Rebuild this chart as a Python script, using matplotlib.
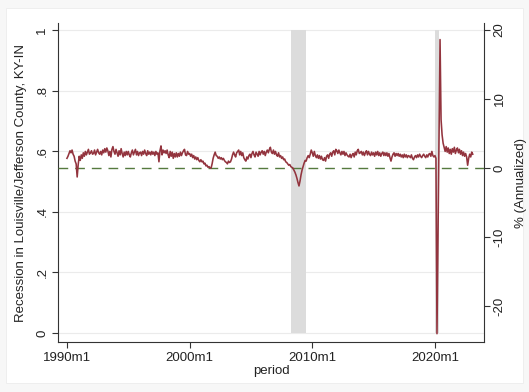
import matplotlib
matplotlib.use("Agg")
import matplotlib.pyplot as plt
import numpy as np
from matplotlib.patches import Rectangle

plt.rcParams['font.family'] = ['Liberation Sans', 'DejaVu Sans']

# monthly growth, % annualized, 1990m1 .. 2023m2
growth_1990 = [1.4, 1.7, 2.1, 2.5, 2.2, 2.6, 2.0, 1.7, 1.0, 0.6, -1.3, 0.5]
growth_1991 = [1.7, 1.1, 1.9, 1.4, 2.2, 1.7, 2.4, 1.9, 2.3, 2.7, 2.0, 2.2]
growth_1992 = [2.5, 2.0, 2.1, 2.6, 1.9, 2.3, 2.7, 2.2, 2.0, 2.4, 1.9, 2.6]
growth_1993 = [2.2, 2.8, 2.3, 2.9, 2.5, 1.8, 2.4, 1.6, 2.7, 3.1, 2.4, 2.0]
growth_1994 = [2.7, 2.2, 1.7, 2.5, 1.9, 2.8, 2.1, 1.6, 2.3, 1.8, 2.4, 1.9]
growth_1995 = [2.4, 1.9, 1.6, 2.2, 2.6, 1.9, 2.3, 2.7, 1.9, 2.4, 1.8, 2.2]
growth_1996 = [2.3, 1.8, 2.4, 2.0, 2.6, 2.1, 1.8, 2.5, 2.0, 2.3, 1.9, 2.4]
growth_1997 = [2.0, 2.3, 1.8, 2.4, 2.0, 2.2, 0.9, 2.5, 3.2, 1.9, 2.6, 2.2]
growth_1998 = [2.5, 2.1, 2.6, 1.9, 1.5, 2.4, 1.7, 2.3, 1.4, 2.1, 1.6, 2.2]
growth_1999 = [1.6, 2.1, 1.7, 2.3, 1.8, 2.2, 2.5, 2.7, 1.9, 1.8, 2.4, 2.0]
growth_2000 = [2.1, 1.7, 2.0, 1.5, 1.8, 1.3, 1.6, 1.2, 1.5, 1.1, 0.9, 1.2]
growth_2001 = [0.9, 1.0, 0.6, 0.7, 0.3, 0.4, 0.1, 0.2, 0.0, 0.0, 0.6, 1.4]
growth_2002 = [1.9, 2.3, 1.8, 1.7, 1.4, 1.6, 1.3, 1.5, 1.2, 1.4, 1.1, 0.9]
growth_2003 = [0.8, 0.6, 1.0, 0.8, 0.9, 1.3, 1.9, 2.3, 1.9, 1.6, 2.2, 2.4]
growth_2004 = [2.6, 1.9, 2.4, 1.8, 2.2, 1.5, 1.2, 1.0, 1.6, 1.3, 1.8, 2.0]
growth_2005 = [1.5, 2.1, 2.4, 1.9, 1.6, 2.3, 2.0, 1.7, 2.4, 1.9, 2.3, 2.5]
growth_2006 = [2.0, 2.4, 1.8, 2.3, 2.6, 2.2, 2.7, 3.0, 2.3, 2.1, 2.6, 2.0]
growth_2007 = [2.4, 1.9, 1.7, 2.2, 1.6, 1.8, 1.4, 1.6, 1.2, 1.3, 0.9, 0.8]
growth_2008 = [0.6, 0.4, 0.5, 0.2, 0.1, 0.0, -0.3, -0.6, -1.0, -1.5, -2.1, -2.6]
growth_2009 = [-1.9, -1.0, -0.3, 0.2, 0.7, 1.1, 1.0, 1.5, 1.8, 1.5, 2.0, 2.6]
growth_2010 = [2.2, 1.7, 2.4, 1.8, 1.5, 1.9, 1.4, 1.8, 1.3, 1.7, 1.2, 1.1]
growth_2011 = [1.5, 1.0, 1.7, 1.9, 1.4, 2.0, 2.2, 1.7, 2.3, 2.5, 1.9, 2.7]
growth_2012 = [2.5, 2.1, 2.6, 2.2, 1.9, 2.4, 2.0, 2.4, 1.8, 2.2, 1.9, 1.7]
growth_2013 = [1.6, 2.0, 1.5, 1.9, 2.1, 1.6, 2.3, 1.9, 2.5, 2.7, 2.1, 2.2]
growth_2014 = [2.4, 1.9, 2.3, 1.8, 2.2, 2.5, 1.9, 2.4, 2.0, 1.8, 2.3, 1.9]
growth_2015 = [2.2, 1.7, 2.3, 1.9, 2.4, 1.8, 2.2, 1.7, 2.1, 2.3, 1.8, 2.2]
growth_2016 = [1.8, 2.2, 1.7, 2.1, 1.5, 1.0, 1.6, 2.0, 2.2, 1.7, 2.1, 1.8]
growth_2017 = [2.1, 1.7, 2.0, 1.6, 1.9, 1.5, 2.0, 1.6, 1.9, 1.5, 1.8, 1.7]
growth_2018 = [1.5, 1.9, 1.4, 1.2, 1.6, 1.8, 1.5, 1.9, 1.6, 2.0, 1.7, 1.5]
growth_2019 = [1.8, 2.0, 1.7, 1.5, 1.9, 1.6, 2.0, 2.1, 1.7, 2.4, 1.8, 1.6]
growth_2020 = [1.8, 1.4, -24.0, -9.5, 5.2, 18.6, 7.0, 4.8, 3.6, 3.0, 2.4, 3.1]
growth_2021 = [2.3, 2.9, 2.1, 2.7, 2.0, 2.8, 2.3, 3.0, 2.1, 2.6, 2.9, 2.2]
growth_2022 = [2.7, 2.0, 2.5, 1.8, 2.3, 1.7, 2.1, 1.6, 0.4, 1.4, 2.0, 1.6]
growth_2023 = [2.3, 2.0]

# recession months (year, month)
recession_2008 = [(2008, m) for m in range(5, 13)] + [(2009, m) for m in range(1, 7)]
recession_2020 = [(2020, 2), (2020, 3), (2020, 4)]

xtick_years = [1990, 2000, 2010, 2020]
ytick_left = [0, 0.2, 0.4, 0.6, 0.8, 1]
ytick_left_labels = ['0', '.2', '.4', '.6', '.8', '1']
ytick_right = [-20, -10, 0, 10, 20]

growth = (growth_1990 + growth_1991 + growth_1992 + growth_1993 + growth_1994 +
          growth_1995 + growth_1996 + growth_1997 + growth_1998 + growth_1999 +
          growth_2000 + growth_2001 + growth_2002 + growth_2003 + growth_2004 +
          growth_2005 + growth_2006 + growth_2007 + growth_2008 + growth_2009 +
          growth_2010 + growth_2011 + growth_2012 + growth_2013 + growth_2014 +
          growth_2015 + growth_2016 + growth_2017 + growth_2018 + growth_2019 +
          growth_2020 + growth_2021 + growth_2022 + growth_2023)
t = 1990 + np.arange(len(growth)) / 12.0

rec_months = recession_2008 + recession_2020
rec_t = [y + (m - 1) / 12.0 for y, m in rec_months]
rec_val = [1] * len(rec_t)

W, H = 529, 392
fig = plt.figure(figsize=(W / 100, H / 100), dpi=100, facecolor='#F7F7F7')
# white graph region inside a light gray margin
fig.patches.append(Rectangle((6 / W, 1 - 383 / H), 517 / W, 375 / H,
                             transform=fig.transFigure, facecolor='white',
                             edgecolor='#ECECEC', lw=0.6, zorder=-10))

ax = fig.add_axes([58 / W, 1 - 342 / H, 426 / W, 319 / H])
ax.set_facecolor('white')
ax2 = ax.twinx()

txt = '#222222'
ax.bar(rec_t, rec_val, width=1 / 12.0, color='#DCDCDC', linewidth=0, zorder=2)
ax.set_axisbelow(True)
ax.yaxis.grid(True, color='#EBEBEB', lw=0.8)
ax.set_xlim(1989.27, 2024.0)
ax.set_ylim(-0.0297, 1.023)
ax.set_yticks(ytick_left)
ax.set_yticklabels(ytick_left_labels, rotation=90, va='center')
ax.set_xticks(xtick_years)
ax.set_xticklabels(['%dm1' % y for y in xtick_years])
ax.set_ylabel('Recession in Louisville/Jefferson County, KY-IN', fontsize=9.5,
              color=txt, labelpad=7)
ax.set_xlabel('period', fontsize=9.5, color=txt, labelpad=1)

ax2.axhline(0, color='#557A3E', lw=1.0, dashes=(7, 5), zorder=3)
ax2.plot(t, growth, color='#93343E', lw=1.15, zorder=4)
ax2.set_ylim(-25.2, 21.0)
ax2.set_yticks(ytick_right)
ax2.set_yticklabels([str(v) for v in ytick_right], rotation=90, va='center')
ax2.set_ylabel('% (Annualized)', fontsize=9.5, color=txt, labelpad=7)

for a in (ax, ax2):
    a.spines['top'].set_visible(False)
    for s in a.spines.values():
        s.set_color('#333333')
        s.set_linewidth(0.8)
    a.tick_params(length=4, width=0.8, color='#333333', labelsize=9.5,
                  labelcolor=txt, pad=3)
ax.spines['right'].set_visible(False)
ax2.spines['left'].set_visible(False)
ax2.spines['bottom'].set_visible(False)

fig.savefig('out.png', dpi=100, facecolor=fig.get_facecolor())
